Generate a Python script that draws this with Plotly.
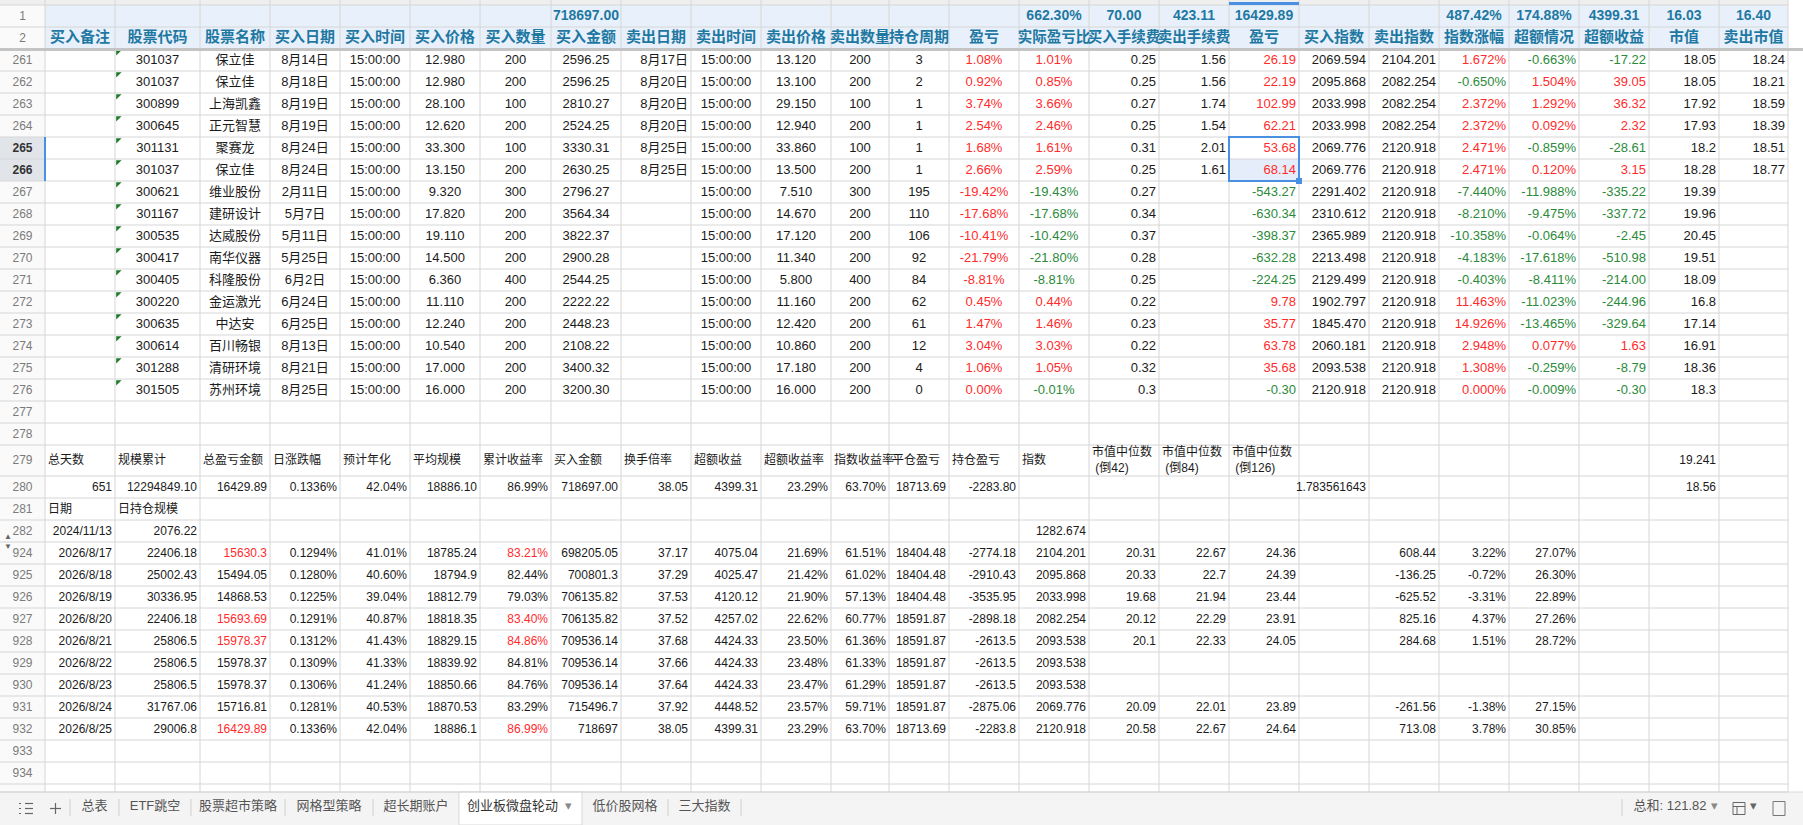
import plotly.graph_objects as go

# ---------------- header rows 1-2 ----------------
headers = ["买入备注", "股票代码", "股票名称", "买入日期", "买入时间", "买入价格", "买入数量", "买入金额",
           "卖出日期", "卖出时间", "卖出价格", "卖出数量", "持仓周期", "盈亏", "实际盈亏比", "买入手续费",
           "卖出手续费", "盈亏", "买入指数", "卖出指数", "指数涨幅", "超额情况", "超额收益", "市值", "卖出市值"]
totals = ([""] * 7 + ["718697.00"] + [""] * 6 + ["662.30%", "70.00", "423.11", "16429.89"] + ["", ""]
          + ["487.42%", "174.88%", "4399.31", "16.03", "16.40"])

# ---------------- trades, rows 261-276 ----------------
trade_rows = list(range(261, 277))
codes = ["301037", "301037", "300899", "300645", "301131", "301037", "300621", "301167",
         "300535", "300417", "300405", "300220", "300635", "300614", "301288", "301505"]
names = ["保立佳", "保立佳", "上海凯鑫", "正元智慧", "聚赛龙", "保立佳", "维业股份", "建研设计",
         "达威股份", "南华仪器", "科隆股份", "金运激光", "中达安", "百川畅银", "清研环境", "苏州环境"]
buy_dates = ["8月14日", "8月18日", "8月19日", "8月19日", "8月24日", "8月24日", "2月11日", "5月7日",
             "5月11日", "5月25日", "6月2日", "6月24日", "6月25日", "8月13日", "8月21日", "8月25日"]
buy_times = ["15:00:00"] * 16
buy_prices = ["12.980", "12.980", "28.100", "12.620", "33.300", "13.150", "9.320", "17.820",
              "19.110", "14.500", "6.360", "11.110", "12.240", "10.540", "17.000", "16.000"]
buy_qty = ["200", "200", "100", "200", "100", "200", "300", "200", "200", "200", "400", "200", "200", "200", "200", "200"]
buy_amounts = ["2596.25", "2596.25", "2810.27", "2524.25", "3330.31", "2630.25", "2796.27", "3564.34",
               "3822.37", "2900.28", "2544.25", "2222.22", "2448.23", "2108.22", "3400.32", "3200.30"]
sell_dates = ["8月17日", "8月20日", "8月20日", "8月20日", "8月25日", "8月25日"] + [""] * 10
sell_times = ["15:00:00"] * 16
sell_prices = ["13.120", "13.100", "29.150", "12.940", "33.860", "13.500", "7.510", "14.670",
               "17.120", "11.340", "5.800", "11.160", "12.420", "10.860", "17.180", "16.000"]
sell_qty = ["200", "200", "100", "200", "100", "200", "300", "200", "200", "200", "400", "200", "200", "200", "200", "200"]
hold_days = ["3", "2", "1", "1", "1", "1", "195", "110", "106", "92", "84", "62", "61", "12", "4", "0"]
pnl_pct = ["1.08%", "0.92%", "3.74%", "2.54%", "1.68%", "2.66%", "-19.42%", "-17.68%",
           "-10.41%", "-21.79%", "-8.81%", "0.45%", "1.47%", "3.04%", "1.06%", "0.00%"]
real_pct = ["1.01%", "0.85%", "3.66%", "2.46%", "1.61%", "2.59%", "-19.43%", "-17.68%",
            "-10.42%", "-21.80%", "-8.81%", "0.44%", "1.46%", "3.03%", "1.05%", "-0.01%"]
buy_fees = ["0.25", "0.25", "0.27", "0.25", "0.31", "0.25", "0.27", "0.34",
            "0.37", "0.28", "0.25", "0.22", "0.23", "0.22", "0.32", "0.3"]
sell_fees = ["1.56", "1.56", "1.74", "1.54", "2.01", "1.61"] + [""] * 10
pnl = ["26.19", "22.19", "102.99", "62.21", "53.68", "68.14", "-543.27", "-630.34",
       "-398.37", "-632.28", "-224.25", "9.78", "35.77", "63.78", "35.68", "-0.30"]
buy_index = ["2069.594", "2095.868", "2033.998", "2033.998", "2069.776", "2069.776", "2291.402", "2310.612",
             "2365.989", "2213.498", "2129.499", "1902.797", "1845.470", "2060.181", "2093.538", "2120.918"]
sell_index = ["2104.201", "2082.254", "2082.254", "2082.254", "2120.918", "2120.918"] + ["2120.918"] * 10
index_chg = ["1.672%", "-0.650%", "2.372%", "2.372%", "2.471%", "2.471%", "-7.440%", "-8.210%",
             "-10.358%", "-4.183%", "-0.403%", "11.463%", "14.926%", "2.948%", "1.308%", "0.000%"]
excess_pct = ["-0.663%", "1.504%", "1.292%", "0.092%", "-0.859%", "0.120%", "-11.988%", "-9.475%",
              "-0.064%", "-17.618%", "-8.411%", "-11.023%", "-13.465%", "0.077%", "-0.259%", "-0.009%"]
excess_gain = ["-17.22", "39.05", "36.32", "2.32", "-28.61", "3.15", "-335.22", "-337.72",
               "-2.45", "-510.98", "-214.00", "-244.96", "-329.64", "1.63", "-8.79", "-0.30"]
mkt_values = ["18.05", "18.05", "17.92", "17.93", "18.2", "18.28", "19.39", "19.96",
              "20.45", "19.51", "18.09", "16.8", "17.14", "16.91", "18.36", "18.3"]
sell_mkt_values = ["18.24", "18.21", "18.59", "18.39", "18.51", "18.77"] + [""] * 10

# ---------------- summary, rows 279-282 ----------------
summary_labels = ["总天数", "规模累计", "总盈亏金额", "日涨跌幅", "预计年化", "平均规模", "累计收益率", "买入金额",
                  "换手倍率", "超额收益", "超额收益率", "指数收益率", "平仓盈亏", "持仓盈亏", "指数",
                  "市值中位数<br>\u00a0(倒42)", "市值中位数<br>\u00a0(倒84)", "市值中位数<br>\u00a0(倒126)"]
summary_values = ["651", "12294849.10", "16429.89", "0.1336%", "42.04%", "18886.10", "86.99%", "718697.00",
                  "38.05", "4399.31", "23.29%", "63.70%", "18713.69", "-2283.80"]
ratio_value = "1.783561643"
median_now = "19.241"
median_avg = "18.56"
daily_labels = ["日期", "日持仓规模"]
start_date, start_scale, start_index = "2024/11/13", "2076.22", "1282.674"

# ---------------- daily rows 924-932 ----------------
day_rows = list(range(924, 933))
dates = ["2026/8/17", "2026/8/18", "2026/8/19", "2026/8/20", "2026/8/21", "2026/8/22", "2026/8/23", "2026/8/24", "2026/8/25"]
day_scale = ["22406.18", "25002.43", "30336.95", "22406.18", "25806.5", "25806.5", "25806.5", "31767.06", "29006.8"]
total_pnl = ["15630.3", "15494.05", "14868.53", "15693.69", "15978.37", "15978.37", "15978.37", "15716.81", "16429.89"]
day_chg = ["0.1294%", "0.1280%", "0.1225%", "0.1291%", "0.1312%", "0.1309%", "0.1306%", "0.1281%", "0.1336%"]
annualized = ["41.01%", "40.60%", "39.04%", "40.87%", "41.43%", "41.33%", "41.24%", "40.53%", "42.04%"]
avg_scale = ["18785.24", "18794.9", "18812.79", "18818.35", "18829.15", "18839.92", "18850.66", "18870.53", "18886.1"]
cum_ret = ["83.21%", "82.44%", "79.03%", "83.40%", "84.86%", "84.81%", "84.76%", "83.29%", "86.99%"]
buy_total = ["698205.05", "700801.3", "706135.82", "706135.82", "709536.14", "709536.14", "709536.14", "715496.7", "718697"]
turnover = ["37.17", "37.29", "37.53", "37.52", "37.68", "37.66", "37.64", "37.92", "38.05"]
excess_total = ["4075.04", "4025.47", "4120.12", "4257.02", "4424.33", "4424.33", "4424.33", "4448.52", "4399.31"]
excess_rate = ["21.69%", "21.42%", "21.90%", "22.62%", "23.50%", "23.48%", "23.47%", "23.57%", "23.29%"]
index_ret = ["61.51%", "61.02%", "57.13%", "60.77%", "61.36%", "61.33%", "61.29%", "59.71%", "63.70%"]
closed_pnl = ["18404.48", "18404.48", "18404.48", "18591.87", "18591.87", "18591.87", "18591.87", "18591.87", "18713.69"]
open_pnl = ["-2774.18", "-2910.43", "-3535.95", "-2898.18", "-2613.5", "-2613.5", "-2613.5", "-2875.06", "-2283.8"]
index_level = ["2104.201", "2095.868", "2033.998", "2082.254", "2093.538", "2093.538", "2093.538", "2069.776", "2120.918"]
median42 = ["20.31", "20.33", "19.68", "20.12", "20.1", "", "", "20.09", "20.58"]
median84 = ["22.67", "22.7", "21.94", "22.29", "22.33", "", "", "22.01", "22.67"]
median126 = ["24.36", "24.39", "23.44", "23.91", "24.05", "", "", "23.89", "24.64"]
gain_vs_prev = ["608.44", "-136.25", "-625.52", "825.16", "284.68", "", "", "-261.56", "713.08"]
gain_pct = ["3.22%", "-0.72%", "-3.31%", "4.37%", "1.51%", "", "", "-1.38%", "3.78%"]
gain_excess = ["27.07%", "26.30%", "22.89%", "27.26%", "28.72%", "", "", "27.15%", "30.85%"]

sheet_tabs = ["总表", "ETF跳空", "股票超市策略", "网格型策略", "超长期账户", "创业板微盘轮动", "低价股网格", "三大指数"]
active_tab = "创业板微盘轮动"
status_sum = "总和: 121.82"

# ---------------- layout of the grid ----------------
FONT = "Liberation Sans, Arial, Noto Sans CJK SC, sans-serif"
INK = "#1b1b1b"
RED = "#ff2b2b"
GREEN = "#2b8a3a"
TEAL = "#1f78a2"
GRID = "#d6d6d6"
SEL = "#4a90e2"
W, H = 1803, 825

x_edges = [0, 45, 115, 200, 270, 340, 410, 480, 551, 621, 691, 761, 831, 889, 949,
           1019, 1089, 1159, 1229, 1299, 1369, 1439, 1509, 1579, 1649, 1719, 1788]
row_keys = ["top", 1, 2] + list(range(261, 279)) + [279, 280, 281, 282] + list(range(924, 935)) + ["tail"]
row_h = {"top": 5, 279: 31, "tail": 8}
rows = {}
y = 0
for k in row_keys:
    h = row_h.get(k, 22)
    rows[k] = (y, y + h)
    y += h
grid_bottom = y
TAB_TOP = grid_bottom

tx, ty, tt, tp, tc, ts = [], [], [], [], [], []


def put(rk, col, text, align="r", color=INK, size=13, bold=False):
    if text == "":
        return
    y0, y1 = rows[rk]
    x0, x1 = x_edges[col], x_edges[col + 1]
    if align == "c":
        tx.append((x0 + x1) / 2)
        tp.append("middle center")
    elif align == "r":
        tx.append(x1 - 3)
        tp.append("middle left")
    else:
        tx.append(x0 + 3)
        tp.append("middle right")
    ty.append((y0 + y1) / 2 + 0.5)
    tt.append(f"<b>{text}</b>" if bold else text)
    tc.append(color)
    ts.append(size)


def signed(v):
    return GREEN if v.startswith("-") else RED


# header rows
for i, h in enumerate(headers):
    put(2, i + 1, h, "c", TEAL, 15 if len(h) < 5 else 14.5, True)
for i, v in enumerate(totals):
    put(1, i + 1, v, "c", TEAL, 14, True)

# trades
trade_cols = [
    (2, codes, "c", None), (3, names, "c", None), (4, buy_dates, "c", None), (5, buy_times, "c", None),
    (6, buy_prices, "c", None), (7, buy_qty, "c", None), (8, buy_amounts, "c", None), (9, sell_dates, "r", None),
    (10, sell_times, "c", None), (11, sell_prices, "c", None), (12, sell_qty, "c", None), (13, hold_days, "c", None),
    (14, pnl_pct, "c", "red"), (15, real_pct, "c", "sign"), (16, buy_fees, "r", None), (17, sell_fees, "r", None),
    (18, pnl, "r", "sign"), (19, buy_index, "r", None), (20, sell_index, "r", None), (21, index_chg, "r", "sign"),
    (22, excess_pct, "r", "sign"), (23, excess_gain, "r", "sign"), (24, mkt_values, "r", None),
    (25, sell_mkt_values, "r", None),
]
for col, vals, al, mode in trade_cols:
    for r, v in zip(trade_rows, vals):
        c = RED if mode == "red" else (signed(v) if mode == "sign" else INK)
        put(r, col, v, al, c, 13)

# summary block
for i, lab in enumerate(summary_labels):
    put(279, i + 1, lab, "l", INK, 12)
put(279, 24, median_now, "r", INK, 12)
for i, v in enumerate(summary_values):
    put(280, i + 1, v, "r", INK, 12)
put(280, 19, ratio_value, "r", INK, 12)
put(280, 24, median_avg, "r", INK, 12)
for i, lab in enumerate(daily_labels):
    put(281, i + 1, lab, "l", INK, 12)
put(282, 1, start_date, "r", INK, 12)
put(282, 2, start_scale, "r", INK, 12)
put(282, 15, start_index, "r", INK, 12)

# daily block, a new high of total P&L is shown in red
best = None
new_high = []
for v in total_pnl:
    f = float(v)
    new_high.append(best is None or f > best)
    best = f if best is None else max(best, f)

day_cols = [
    (1, dates, False), (2, day_scale, False), (3, total_pnl, True), (4, day_chg, False), (5, annualized, False),
    (6, avg_scale, False), (7, cum_ret, True), (8, buy_total, False), (9, turnover, False),
    (10, excess_total, False), (11, excess_rate, False), (12, index_ret, False), (13, closed_pnl, False),
    (14, open_pnl, False), (15, index_level, False), (16, median42, False), (17, median84, False),
    (18, median126, False), (20, gain_vs_prev, False), (21, gain_pct, False), (22, gain_excess, False),
]
for col, vals, hl in day_cols:
    for r, v, nh in zip(day_rows, vals, new_high):
        put(r, col, v, "r", RED if (hl and nh) else INK, 12)

# row numbers
for k in row_keys:
    if isinstance(k, int):
        sel = k in (265, 266)
        put(k, 0, str(k), "c", "#333333" if sel else "#7a7a7a", 12, sel)

shapes = []


def rect(x0, y0, x1, y1, fill=None, line=None, lw=1, layer="below"):
    shapes.append(dict(type="rect", x0=x0, y0=y0, x1=x1, y1=y1, layer=layer,
                       fillcolor=fill or "rgba(0,0,0,0)",
                       line=dict(color=line or "rgba(0,0,0,0)", width=lw if line else 0)))


def seg(x0, y0, x1, y1, color=GRID, lw=1, layer="below"):
    shapes.append(dict(type="line", x0=x0, y0=y0, x1=x1, y1=y1, layer=layer, line=dict(color=color, width=lw)))


right = x_edges[-1]
rect(0, 0, right, rows["top"][1], "#efefef")
rect(x_edges[1], rows[1][0], right, rows[2][1], "#e8f1fb")
rect(0, rows[1][0], x_edges[1], TAB_TOP, "#fafafa")
rect(0, rows[265][0], x_edges[1], rows[266][1], "#e1e5ea")
rect(x_edges[18], rows[266][0], x_edges[19], rows[266][1], "#e4edf9")

# grid lines
gx, gy = [], []
for k in row_keys:
    gx += [0, right, None]
    gy += [rows[k][1], rows[k][1], None]
for xe in x_edges[1:]:
    gx += [xe, xe, None]
    gy += [0, TAB_TOP, None]

# selection and the frozen-pane separator
rect(x_edges[18], rows[265][0], x_edges[19], rows[266][1], line=SEL, lw=2, layer="above")
rect(x_edges[19] - 3, rows[266][1] - 3, x_edges[19] + 3, rows[266][1] + 3, SEL, layer="above")
rect(x_edges[18], 2, x_edges[19], rows["top"][1], SEL, layer="above")
seg(x_edges[1], rows[265][0], x_edges[1], rows[266][1], SEL, 2, "above")
seg(0, rows[2][1] + 0.5, W, rows[2][1] + 0.5, "#c4c4c4", 3, "above")

# sheet tab bar (below the text traces so the tab names stay visible)
rect(0, TAB_TOP, W, H, "#f4f4f4")
seg(0, TAB_TOP, W, TAB_TOP, "#d9d9d9", 1)
tab_edges = [70, 119, 191, 285, 373, 459, 582, 668, 741]
ia = sheet_tabs.index(active_tab)
rect(tab_edges[ia], TAB_TOP, tab_edges[ia + 1], H, "#ffffff", "#d9d9d9", 1)
for i, xe in enumerate(tab_edges):
    if i in (ia, ia + 1):
        continue
    seg(xe, TAB_TOP + 7, xe, H - 9, "#d0d0d0", 1)
seg(1622, TAB_TOP + 7, 1622, H - 9, "#d0d0d0", 1)
mid = (TAB_TOP + H) / 2
for j in range(3):
    seg(25, mid - 5 + 5 * j, 33, mid - 5 + 5 * j, "#666666", 1.2)
    seg(19, mid - 5 + 5 * j, 21, mid - 5 + 5 * j, "#666666", 1.2)
seg(50, mid, 61, mid, "#666666", 1.2)
seg(55.5, mid - 5.5, 55.5, mid + 5.5, "#666666", 1.2)
rect(1733, mid - 6, 1745, mid + 6, line="#666666", lw=1)
seg(1733, mid - 2, 1745, mid - 2, "#666666", 1)
seg(1737, mid - 2, 1737, mid + 6, "#666666", 1)
rect(1773, mid - 7, 1785, mid + 7, line="#777777", lw=1)

bx, by, bt, bc = [], [], [], []
for i, name in enumerate(sheet_tabs):
    cx = (tab_edges[i] + tab_edges[i + 1]) / 2
    if name == active_tab:
        bx += [cx - 8, tab_edges[i + 1] - 14]
        by += [mid - 2, mid - 2]
        bt += [name, "▾"]
        bc += ["#333333", "#888888"]
    else:
        bx.append(cx)
        by.append(mid - 2)
        bt.append(name)
        bc.append("#555555")
bx += [1670, 1714, 1753]
by += [mid - 2, mid - 2, mid - 2]
bt += [status_sum, "▾", "▾"]
bc += ["#555555", "#888888", "#666666"]

fig = go.Figure()
fig.add_trace(go.Scatter(x=gx, y=gy, mode="lines", line=dict(color=GRID, width=1), hoverinfo="skip"))
fig.add_trace(go.Scatter(
    x=[x_edges[2] + 3] * len(trade_rows), y=[rows[r][0] + 3 for r in trade_rows], mode="markers",
    marker=dict(symbol="triangle-nw", size=6, color="#1f7a2a", line=dict(width=0)), hoverinfo="skip"))
fig.add_trace(go.Scatter(
    x=tx, y=ty, text=tt, mode="text", textposition=tp, hoverinfo="skip", cliponaxis=False,
    textfont=dict(family=FONT, color=tc, size=ts)))
fig.add_trace(go.Scatter(
    x=[4, 4], y=[rows[282][1] - 5, rows[924][0] + 5], text=["▲", "▼"], mode="text",
    textposition="middle right", hoverinfo="skip", textfont=dict(family=FONT, size=8, color="#666666")))
fig.add_trace(go.Scatter(
    x=bx, y=by, text=bt, mode="text", textposition="middle center", hoverinfo="skip", cliponaxis=False,
    textfont=dict(family=FONT, size=13, color=bc)))

fig.update_layout(
    width=W, height=H, margin=dict(l=0, r=0, t=0, b=0),
    paper_bgcolor="#ffffff", plot_bgcolor="#ffffff", showlegend=False, shapes=shapes,
    xaxis=dict(range=[0, W], visible=False, fixedrange=True),
    yaxis=dict(range=[H, 0], visible=False, fixedrange=True),
)
fig.write_html("out.html", config={"displayModeBar": False},
               post_script="document.body.style.margin='0px';")
